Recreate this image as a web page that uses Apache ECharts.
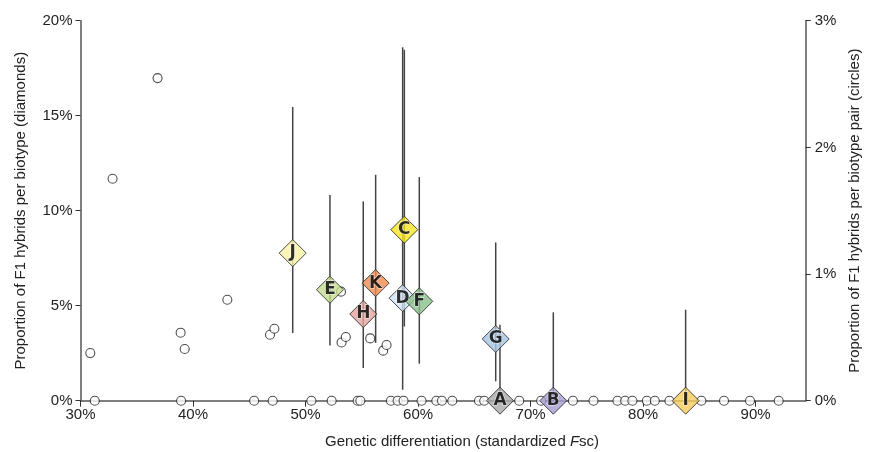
<!DOCTYPE html>
<html>
<head>
<meta charset="utf-8">
<title>F1 hybrids vs genetic differentiation</title>
<script src="https://cdn.jsdelivr.net/npm/echarts@6/dist/echarts.min.js"></script>
<style>
    html, body { margin: 0; padding: 0; background: #fff; }
    #chart { width: 869px; height: 452px; }
</style>
</head>
<body>
<div id="chart"></div>
<script>
// biotypes (diamonds, left axis, %)
var biotypes  = ['J', 'E', 'H', 'K', 'D', 'C', 'F', 'G', 'A', 'B', 'I'];
var biotypeX  = [48.86, 52.17, 55.13, 56.23, 58.63, 58.78, 60.11, 66.9, 67.28, 72.02, 83.78];
var biotypeY  = [7.77, 5.84, 4.56, 6.19, 5.40, 9.0, 5.23, 3.25, 0, 0, 0];
var biotypeLo = [3.56, 2.91, 1.72, 3.04, 0.58, 3.91, 1.95, 1.02, 0, 0, 0];
var biotypeHi = [15.46, 10.83, 10.49, 11.89, 18.6, 18.47, 11.77, 8.33, 4.0, 4.65, 4.79];
var biotypeColors = ['#fbf2a6', '#c4dc8e', '#e5a49d', '#f08a4c', '#cfe2f4', '#f8e61e',
                     '#88c088', '#a7c4e4', '#a9a9a9', '#a49ecf', '#f8cc5e'];

// biotype pairs (circles, right axis, %)
var pairX = [30.87, 32.85, 36.85, 38.9, 39.26, 43.05, 46.84, 47.23, 53.15, 53.2, 53.58, 55.75, 56.9, 57.2,
             31.27, 38.94, 45.43, 47.08, 50.52, 52.32, 54.63, 54.87, 57.59, 58.18, 58.71, 60.31,
             61.62, 62.12, 63.04, 65.41, 65.88, 68.99, 70.94, 73.76, 75.59, 77.72, 78.40, 79.05,
             80.33, 81.04, 82.34, 85.18, 87.19, 89.50, 92.05];
var pairY = [0.376, 1.752, 2.547, 0.537, 0.408, 0.797, 0.521, 0.568, 0.861, 0.46, 0.503, 0.492, 0.395, 0.44,
             0, 0, 0, 0, 0, 0, 0, 0, 0, 0, 0, 0,
             0, 0, 0, 0, 0, 0, 0, 0, 0, 0, 0, 0,
             0, 0, 0, 0, 0, 0, 0];

var xTicks = [30, 40, 50, 60, 70, 80, 90];

var font = 'Liberation Sans, Arial, sans-serif';
var axisColor = '#555';

var diamondData = biotypes.map(function (n, i) {
    return {
        name: n,
        value: [biotypeX[i], biotypeY[i]],
        itemStyle: { color: biotypeColors[i] }
    };
});
var barData = biotypes.map(function (n, i) {
    return [biotypeX[i], biotypeLo[i], biotypeHi[i]];
});
var pairData = pairX.map(function (x, i) { return [x, pairY[i]]; });

var chart = echarts.init(document.getElementById('chart'));
var option = {
    animation: false,
    grid: { left: 80.5, right: 63.3, top: 20.7, bottom: 51.3, outerBoundsMode: 'none', containLabel: false },
    xAxis: {
        type: 'value',
        min: 30,
        max: 94.45,
        interval: 10,
        name: 'Genetic differentiation (standardized {i|F}sc)',
        nameLocation: 'middle',
        nameGap: 34,
        nameTextStyle: {
            fontFamily: font, fontSize: 15, color: '#222', padding: [0, 0, 0, 38],
            rich: { i: { fontFamily: font, fontSize: 15, fontStyle: 'italic', color: '#222' } }
        },
        splitLine: { show: false },
        axisLine: { onZero: false, lineStyle: { color: axisColor, width: 1.5 } },
        axisTick: { length: 6, lineStyle: { color: '#333', width: 1 } },
        axisLabel: {
            showMaxLabel: false,
            margin: 7,
            fontFamily: font, fontSize: 15, color: '#222',
            formatter: function (v) { return xTicks.indexOf(v) >= 0 ? v + '%' : ''; }
        }
    },
    yAxis: [{
        type: 'value',
        min: 0,
        max: 20,
        interval: 5,
        name: 'Proportion of F1 hybrids per biotype (diamonds)',
        nameLocation: 'middle',
        nameGap: 52,
        nameTextStyle: { fontFamily: font, fontSize: 15, color: '#222' },
        splitLine: { show: false },
        axisLine: { show: true, lineStyle: { color: axisColor, width: 1.5 } },
        axisTick: { show: true, length: 5, lineStyle: { color: '#333' } },
        axisLabel: { margin: 8, fontFamily: font, fontSize: 15, color: '#222', formatter: '{value}%' }
    }, {
        type: 'value',
        min: 0,
        max: 3,
        interval: 1,
        position: 'right',
        name: 'Proportion of F1 hybrids per biotype pair (circles)',
        nameLocation: 'middle',
        nameGap: 42,
        nameTextStyle: { fontFamily: font, fontSize: 15, color: '#222' },
        splitLine: { show: false },
        axisLine: { show: true, lineStyle: { color: axisColor, width: 1.5 } },
        axisTick: { show: true, length: 5, lineStyle: { color: '#333' } },
        axisLabel: { margin: 9, fontFamily: font, fontSize: 15, color: '#222', formatter: '{value}%' }
    }],
    series: [
        {
            // error bars for biotypes
            type: 'custom',
            yAxisIndex: 0,
            z: 2,
            data: barData,
            renderItem: function (params, api) {
                var lo = api.coord([api.value(0), api.value(1)]);
                var hi = api.coord([api.value(0), api.value(2)]);
                return {
                    type: 'line',
                    shape: { x1: lo[0], y1: lo[1], x2: hi[0], y2: hi[1] },
                    style: { stroke: '#444', lineWidth: 1.5 }
                };
            }
        },
        {
            name: 'pairs',
            type: 'scatter',
            yAxisIndex: 1,
            z: 3,
            symbol: 'circle',
            symbolSize: 9,
            itemStyle: { color: '#fff', borderColor: '#222', borderWidth: 1.1 },
            data: pairData
        },
        {
            name: 'biotypes',
            type: 'scatter',
            yAxisIndex: 0,
            z: 4,
            symbol: 'diamond',
            symbolSize: [27, 27],
            itemStyle: { borderColor: '#222', borderWidth: 1 },
            label: {
                show: true,
                position: 'inside',
                formatter: '{b}',
                fontFamily: 'DejaVu Sans, sans-serif',
                fontSize: 17,
                fontWeight: 'bold',
                color: '#000',
                textBorderColor: '#fff',
                textBorderWidth: 1
            },
            data: diamondData
        }
    ]
};
chart.setOption(option);
</script>
</body>
</html>
